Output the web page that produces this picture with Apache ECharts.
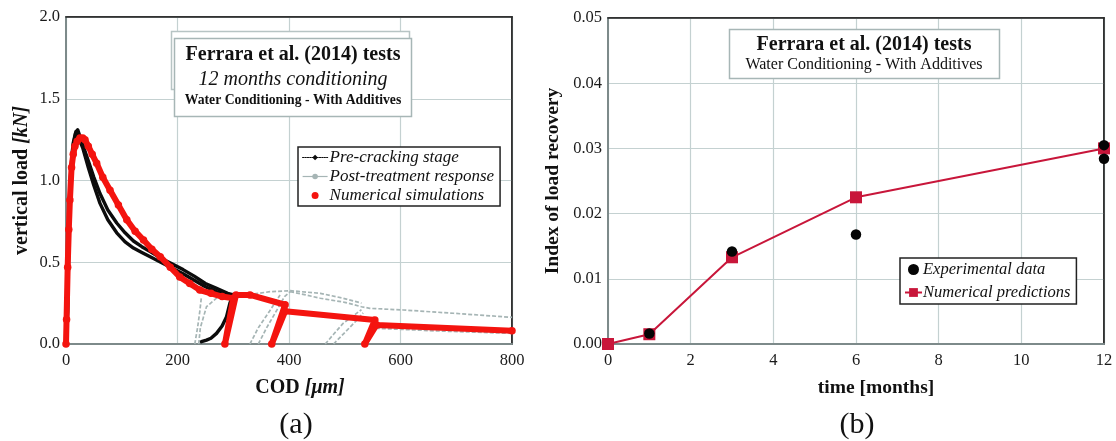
<!DOCTYPE html>
<html>
<head>
<meta charset="utf-8">
<script src="https://cdn.jsdelivr.net/npm/echarts@6/dist/echarts.min.js"></script>
<style>
  html, body { margin: 0; padding: 0; background: #ffffff; }
  #chart { width: 1116px; height: 441px; }
</style>
</head>
<body>
<div id="chart"></div>
<script>
// ---------- Panel (a): load vs crack opening displacement ----------
// Pre-cracking stage, two test branches: [COD (um), vertical load (kN)]
const preCrackingA = [[0,0],[2,0.1],[4,0.45],[5,0.68],[7,0.98],[10,1.12],[13,1.23],[17,1.29],[21,1.31],
  [30,1.22],[40,1.12],[50,1.02],[61,0.92],[75,0.82],[91,0.74],[106,0.68],[121,0.63],[136,0.595],
  [151,0.565],[170,0.525],[190,0.49],[210,0.455],[230,0.415],[250,0.37],[270,0.34],[290,0.31],[300,0.30]];
const preCrackingB = [[0,0],[3,0.2],[5,0.6],[8,1.0],[12,1.2],[18,1.3],[21,1.3],[30,1.2],[40,1.08],
  [50,0.97],[61,0.86],[75,0.76],[91,0.68],[106,0.625],[121,0.587],[136,0.56],[151,0.534],[170,0.5],
  [190,0.465],[210,0.43],[230,0.39],[250,0.35],[270,0.32],[290,0.30]];
const preCrackingUnload = [[300,0.30],[294,0.25],[288,0.167],[280,0.11],[270,0.065],[260,0.035],[252,0.024],[243,0.014]];

// Post-treatment response, one array per reloading branch
const postTreatment1 = [[231,0],[236,0.1],[240,0.2],[243,0.29]];
const postTreatment2 = [[238,0],[241,0.1],[252,0.228],[270,0.28],[300,0.31],[324,0.30],[366,0.32],
  [402,0.326],[456,0.31],[497,0.28],[530,0.25]];
const postTreatment3 = [[330,0],[345,0.1],[365,0.2],[384,0.30]];
const postTreatment4 = [[345,0],[360,0.1],[377,0.2],[392,0.29],[402,0.32]];
const postTreatment5 = [[402,0.32],[430,0.30],[456,0.28],[500,0.255],[530,0.228],[545,0.218],
  [605,0.208],[695,0.188],[800,0.163]];
const postTreatment6 = [[465,0],[480,0.06],[497,0.126],[530,0.21]];
const postTreatment7 = [[480,0],[500,0.07],[520,0.14],[533,0.19]];
const postTreatment8 = [[545,0.10],[557,0.096],[665,0.08],[800,0.065]];

// Numerical simulation of the full loading history
const numericalSim = [[0,0],[1,0.15],[3,0.47],[5,0.7],[7,0.88],[10,1.08],[13,1.16],[16,1.21],[20,1.24],
  [25,1.26],[30,1.26],[34,1.25],[40,1.21],[47,1.16],[55,1.105],[66,1.02],[79,0.94],[94,0.85],
  [109,0.76],[124,0.69],[139,0.636],[154,0.58],[169,0.534],[187,0.47],[204,0.41],[222,0.37],
  [240,0.33],[260,0.31],[280,0.29],[300,0.28],[285,0],[305,0.30],[330,0.30],[393,0.24],[369,0],
  [393,0.20],[554,0.147],[536,0],[557,0.116],[800,0.081]];

// ---------- Panel (b): index of load recovery vs time ----------
const experimentalMonths = [1, 3, 6, 12, 12];
const experimentalIndex = [0.0016, 0.0142, 0.0168, 0.0305, 0.0284];
const predictedMonths = [0, 1, 3, 6, 12];
const predictedIndex = [0, 0.0015, 0.0133, 0.0225, 0.0300];

const SERIF = "'Liberation Serif', 'Times New Roman', serif";
const GRID_LINE = '#c4d1d1';
const AXIS_GRAY = '#7d8a8a';
const FRAME = '#262626';

const zip = (xs, ys) => xs.map((x, i) => [x, ys[i]]);

function axisCommon() {
  return {
    axisLine: { show: true, onZero: false, lineStyle: { color: AXIS_GRAY, width: 2 } },
    axisTick: { show: false },
    splitLine: { show: true, lineStyle: { color: GRID_LINE, width: 1.2 } },
    axisLabel: { fontFamily: SERIF, fontSize: 16.5, color: '#1a1a1a', margin: 8 }
  };
}

// plain dark axis used only as the top / right edge of a plot frame
function frameAxis(gridIndex, position, min, max) {
  return {
    type: 'value', gridIndex, position, min, max,
    axisLine: { show: true, onZero: false, lineStyle: { color: FRAME, width: 1.6 } },
    axisTick: { show: false }, axisLabel: { show: false }, splitLine: { show: false }
  };
}

const chart = echarts.init(document.getElementById('chart'), null, { renderer: 'canvas' });

const postStyle = (data) => ({
  name: 'Post-treatment response', type: 'line', xAxisIndex: 0, yAxisIndex: 0,
  data: data, symbol: 'circle', symbolSize: 3, showSymbol: false, z: 2,
  lineStyle: { color: '#a6b5b5', width: 1.7, type: [4, 2] },
  itemStyle: { color: '#a6b5b5' }
});

const preStyle = (data) => ({
  name: 'Pre-cracking stage', type: 'line', xAxisIndex: 0, yAxisIndex: 0,
  data: data, symbol: 'diamond', symbolSize: 4, showSymbol: false, z: 3,
  lineStyle: { color: '#0c0c0c', width: 3.4, join: 'round', cap: 'round' },
  itemStyle: { color: '#0c0c0c' }
});

const option = {
  backgroundColor: '#ffffff',
  animation: false,
  grid: [
    { left: 66, top: 17, width: 446, height: 327, show: true, borderColor: FRAME, borderWidth: 1.5,
      backgroundColor: '#ffffff', containLabel: false, outerBoundsMode: 'none' },
    { left: 608, top: 18, width: 496, height: 326, show: true, borderColor: FRAME, borderWidth: 1.5,
      backgroundColor: '#ffffff', containLabel: false, outerBoundsMode: 'none' }
  ],
  xAxis: [
    Object.assign(axisCommon(), {
      type: 'value', gridIndex: 0, min: 0, max: 800, interval: 200,
      name: '{b|COD }{i|[\u03bcm]}', nameLocation: 'middle', nameGap: 34,
      nameTextStyle: { padding: [0, 0, 0, 22], rich: {
        b: { fontFamily: SERIF, fontWeight: 'bold', fontSize: 20, color: '#111' },
        i: { fontFamily: SERIF, fontWeight: 'bold', fontStyle: 'italic', fontSize: 20, color: '#111' } } }
    }),
    Object.assign(axisCommon(), {
      type: 'value', gridIndex: 1, min: 0, max: 12, interval: 2,
      name: 'time [months]', nameLocation: 'middle', nameGap: 34,
      nameTextStyle: { fontFamily: SERIF, fontWeight: 'bold', fontSize: 19.5, color: '#111', padding: [0, 0, 0, 40] }
    }),
    frameAxis(0, 'top', 0, 800),
    frameAxis(1, 'top', 0, 12)
  ],
  yAxis: [
    Object.assign(axisCommon(), {
      type: 'value', gridIndex: 0, min: 0, max: 2, interval: 0.5,
      axisLabel: { fontFamily: SERIF, fontSize: 16.5, color: '#1a1a1a', margin: 6, formatter: v => v.toFixed(1) },
      name: '{b|vertical load }{i|[kN]}', nameLocation: 'middle', nameGap: 34, nameRotate: 90,
      nameTextStyle: { rich: {
        b: { fontFamily: SERIF, fontWeight: 'bold', fontSize: 20, color: '#111' },
        i: { fontFamily: SERIF, fontWeight: 'bold', fontStyle: 'italic', fontSize: 20, color: '#111' } } }
    }),
    Object.assign(axisCommon(), {
      type: 'value', gridIndex: 1, min: 0, max: 0.05, interval: 0.01,
      axisLabel: { fontFamily: SERIF, fontSize: 16.5, color: '#1a1a1a', margin: 6, formatter: v => v.toFixed(2) },
      name: 'Index of load recovery', nameLocation: 'middle', nameGap: 45, nameRotate: 90,
      nameTextStyle: { fontFamily: SERIF, fontWeight: 'bold', fontSize: 19.5, color: '#111' }
    }),
    frameAxis(0, 'right', 0, 2),
    frameAxis(1, 'right', 0, 0.05)
  ],
  legend: [
    {
      orient: 'vertical', left: 298, top: 147, itemWidth: 25, itemHeight: 7, itemGap: 2,
      padding: [2, 6, 2, 4], backgroundColor: '#ffffff', borderColor: '#222', borderWidth: 1.5,
      borderRadius: 0, selectedMode: false, z: 20,
      textStyle: { fontFamily: SERIF, fontStyle: 'italic', fontSize: 17, color: '#111', padding: [0, 0, 0, -3] },
      data: [
        { name: 'Pre-cracking stage', lineStyle: { type: 'dotted', width: 1.2 } },
        { name: 'Post-treatment response', lineStyle: { type: 'solid', width: 1.2 } },
        { name: 'Numerical simulations', icon: 'circle' }
      ]
    },
    {
      orient: 'vertical', left: 900, top: 258, itemWidth: 17, itemHeight: 11, itemGap: 6,
      padding: [3, 6, 3, 4], backgroundColor: '#ffffff', borderColor: '#222', borderWidth: 1.5,
      borderRadius: 0, selectedMode: false, z: 20,
      textStyle: { fontFamily: SERIF, fontStyle: 'italic', fontSize: 16.5, color: '#111', padding: [0, 0, 0, -4] },
      data: [
        { name: 'Experimental data', itemStyle: { opacity: 1 } },
        { name: 'Numerical predictions', lineStyle: { width: 2 } }
      ]
    }
  ],
  series: [
    postStyle(postTreatment1), postStyle(postTreatment2), postStyle(postTreatment3), postStyle(postTreatment4),
    postStyle(postTreatment5), postStyle(postTreatment6), postStyle(postTreatment7), postStyle(postTreatment8),
    preStyle(preCrackingA), preStyle(preCrackingB), preStyle(preCrackingUnload),
    {
      name: 'Numerical simulations', type: 'line', xAxisIndex: 0, yAxisIndex: 0,
      data: numericalSim, symbol: 'circle', symbolSize: 7.5, showSymbol: true, z: 4,
      lineStyle: { color: '#f4140f', width: 6, join: 'round', cap: 'round' },
      itemStyle: { color: '#f4140f', borderWidth: 0 }
    },
    {
      name: 'Numerical predictions', type: 'line', xAxisIndex: 1, yAxisIndex: 1,
      data: zip(predictedMonths, predictedIndex), symbol: 'rect', symbolSize: 12, showSymbol: true, z: 4,
      clip: false,
      lineStyle: { color: '#c8163a', width: 2 }, itemStyle: { color: '#c8163a', borderWidth: 0 }
    },
    {
      name: 'Experimental data', type: 'scatter', xAxisIndex: 1, yAxisIndex: 1,
      data: zip(experimentalMonths, experimentalIndex), symbol: 'circle', symbolSize: 10.5, z: 5,
      clip: false, itemStyle: { color: '#050505', borderWidth: 0, opacity: 1 }
    }
  ],
  graphic: [
    // panel (a) heading box with its offset backing frame
    { type: 'rect', z: 30, shape: { x: 171.5, y: 31.5, width: 238, height: 58 },
      style: { fill: '#ffffff', stroke: '#b7c4c4', lineWidth: 1.5 } },
    { type: 'rect', z: 31, shape: { x: 174.5, y: 38.5, width: 237, height: 78 },
      style: { fill: '#ffffff', stroke: '#a7b6b6', lineWidth: 1.5 } },
    { type: 'text', z: 32, x: 293, y: 55, style: { text: 'Ferrara et al. (2014) tests', fontFamily: SERIF,
      fontWeight: 'bold', fontSize: 20, fill: '#111', align: 'center', verticalAlign: 'middle' } },
    { type: 'text', z: 32, x: 293, y: 80, style: { text: '12 months conditioning', fontFamily: SERIF,
      fontStyle: 'italic', fontSize: 20, fill: '#111', align: 'center', verticalAlign: 'middle' } },
    { type: 'text', z: 32, x: 293, y: 100, style: { text: 'Water Conditioning - With Additives', fontFamily: SERIF,
      fontWeight: 'bold', fontSize: 13.7, fill: '#111', align: 'center', verticalAlign: 'middle' } },
    // panel (b) heading box
    { type: 'rect', z: 31, shape: { x: 729.5, y: 29.5, width: 270, height: 49 },
      style: { fill: '#ffffff', stroke: '#a7b6b6', lineWidth: 1.5 } },
    { type: 'text', z: 32, x: 864, y: 45, style: { text: 'Ferrara et al. (2014) tests', fontFamily: SERIF,
      fontWeight: 'bold', fontSize: 20, fill: '#111', align: 'center', verticalAlign: 'middle' } },
    { type: 'text', z: 32, x: 864, y: 65, style: { text: 'Water Conditioning - With Additives', fontFamily: SERIF,
      fontSize: 16, fill: '#111', align: 'center', verticalAlign: 'middle' } },
    // panel captions
    { type: 'text', z: 32, x: 296, y: 425, style: { text: '(a)', fontFamily: SERIF, fontSize: 30,
      fill: '#111', align: 'center', verticalAlign: 'middle' } },
    { type: 'text', z: 32, x: 857, y: 425, style: { text: '(b)', fontFamily: SERIF, fontSize: 30,
      fill: '#111', align: 'center', verticalAlign: 'middle' } }
  ]
};

chart.setOption(option);
</script>
</body>
</html>
